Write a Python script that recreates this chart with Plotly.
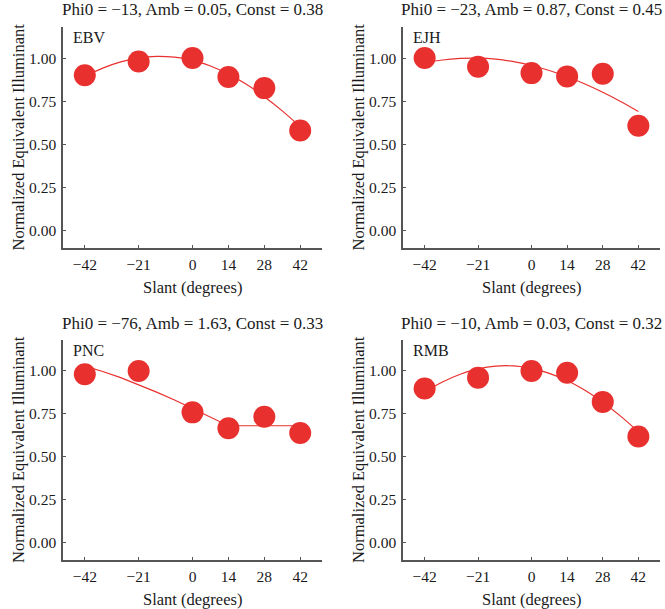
import plotly.graph_objects as go

# ---- data ----
slant = [-42, -21, 0, 14, 28, 42]
slant_ticks = [-42, -21, 0, 14, 28, 42]
y_ticks = [0.0, 0.25, 0.5, 0.75, 1.0]

subjects = ["EBV", "EJH", "PNC", "RMB"]
titles = [
    "Phi0 = −13, Amb = 0.05, Const = 0.38",
    "Phi0 = −23, Amb = 0.87, Const = 0.45",
    "Phi0 = −76, Amb = 1.63, Const = 0.33",
    "Phi0 = −10, Amb = 0.03, Const = 0.32",
]

ebv_pts = [0.90, 0.98, 1.00, 0.89, 0.826, 0.58]
ejh_pts = [1.00, 0.95, 0.913, 0.894, 0.909, 0.608]
pnc_pts = [0.981, 1.00, 0.759, 0.666, 0.734, 0.639]
rmb_pts = [0.898, 0.961, 1.00, 0.99, 0.82, 0.618]

fit_x = [-42, -35, -28, -21, -14, -7, 0, 7, 14, 21, 28, 35, 42]
ebv_fit = [0.895, 0.942, 0.978, 1.001, 1.010, 1.005, 0.988, 0.954, 0.907, 0.848, 0.776, 0.694, 0.602]
ejh_fit = [0.972, 0.989, 0.998, 1.000, 0.994, 0.979, 0.957, 0.928, 0.892, 0.850, 0.802, 0.749, 0.691]
pnc_fit = [1.028, 0.997, 0.961, 0.921, 0.877, 0.831, 0.782, 0.732, 0.681, 0.681, 0.681, 0.681, 0.681]
rmb_fit = [0.878, 0.936, 0.981, 1.012, 1.028, 1.029, 1.015, 0.986, 0.944, 0.887, 0.818, 0.737, 0.646]

points = [ebv_pts, ejh_pts, pnc_pts, rmb_pts]
fits = [ebv_fit, ejh_fit, pnc_fit, rmb_fit]
fit_shapes = ["spline", "spline", "linear", "spline"]

# ---- layout geometry (pixels, page coordinates) ----
W, H = 665, 609
RED = "#E8312F"
FONT = "Liberation Serif"
TXT = "#1a1a1a"
panels_px = [  # x0, x1, y_top, y_bottom
    (63, 322, 27, 248),
    (403, 660, 27, 248),
    (63, 322, 340, 560),
    (403, 660, 340, 560),
]


def px(x):
    return x / W


def py(y):
    return 1 - y / H


fig = go.Figure()
annotations = []
for i in range(4):
    x0, x1, yt, yb = panels_px[i]
    xa = "x" if i == 0 else f"x{i+1}"
    ya = "y" if i == 0 else f"y{i+1}"
    fig.add_trace(go.Scatter(
        x=fit_x, y=fits[i], mode="lines", xaxis=xa, yaxis=ya,
        line=dict(color=RED, width=1.2, shape=fit_shapes[i]), showlegend=False,
        hoverinfo="skip"))
    fig.add_trace(go.Scatter(
        x=slant, y=points[i], mode="markers", xaxis=xa, yaxis=ya,
        marker=dict(color=RED, size=22, line=dict(width=0)), showlegend=False))

    axis_common = dict(
        showline=True, linecolor="#555555", linewidth=1.5, mirror=False,
        showgrid=False, zeroline=False, ticks="inside", ticklen=3,
        tickcolor="#555555", tickwidth=1,
        tickfont=dict(family=FONT, size=15.5, color=TXT),
    )
    xdom = [px(x0), px(x1)]
    ydom = [py(yb), py(yt)]
    fig.layout[("xaxis" if i == 0 else f"xaxis{i+1}")] = dict(
        axis_common, domain=xdom, range=[-50.5, 50.5], tickvals=slant_ticks,
        anchor=ya, ticklabelstandoff=2)
    fig.layout[("yaxis" if i == 0 else f"yaxis{i+1}")] = dict(
        axis_common, domain=ydom, range=[-0.1, 1.18], tickvals=y_ticks,
        tickformat=".2f", anchor=xa, ticklabelstandoff=2)

    cx = (x0 + x1) / 2
    # panel title
    annotations.append(dict(
        text=titles[i], x=px(cx), y=py(yt - 17), xref="paper", yref="paper",
        xanchor="center", yanchor="middle", showarrow=False, borderpad=0,
        font=dict(family=FONT, size=17, color=TXT)))
    # subject label
    annotations.append(dict(
        text=subjects[i], x=px(x0 + 8), y=py(yt + 10), xref="paper", yref="paper",
        xanchor="left", yanchor="middle", showarrow=False,
        font=dict(family=FONT, size=16, color=TXT)))
    # y axis title
    annotations.append(dict(
        text="Normalized Equivalent Illuminant", x=px(x0 - 45), y=py((yt + yb) / 2),
        xref="paper", yref="paper", xanchor="center", yanchor="middle",
        textangle=-90, showarrow=False,
        font=dict(family=FONT, size=16.5, color=TXT)))
    # x axis title
    annotations.append(dict(
        text="Slant (degrees)", x=px(cx), y=py(yb + 39),
        xref="paper", yref="paper", xanchor="center", yanchor="middle",
        showarrow=False, font=dict(family=FONT, size=16.5, color=TXT)))

fig.update_layout(
    width=W, height=H, margin=dict(l=0, r=0, t=0, b=0),
    paper_bgcolor="white", plot_bgcolor="white",
    annotations=annotations, showlegend=False,
)
fig.write_html("out.html", config={"displayModeBar": False},
               post_script="document.body.style.margin='0px';")
